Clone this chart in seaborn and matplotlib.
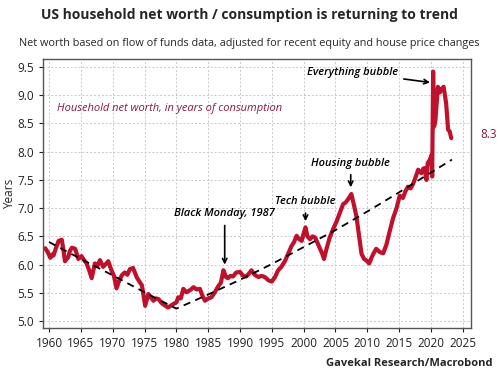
import numpy as np
import pandas as pd
import matplotlib
matplotlib.use("Agg")
import matplotlib.pyplot as plt
import seaborn as sns

# Household net worth in years of consumption
years = [1959.4, 1959.8, 1960.2, 1960.5, 1960.7, 1961.1, 1961.5, 1962.0, 1962.2, 1962.5,
         1963.0, 1963.3, 1963.6, 1964.1, 1964.6, 1965.1, 1965.5, 1965.9, 1966.3, 1966.7,
         1967.2, 1967.6, 1968.0, 1968.5, 1969.0, 1969.3, 1969.8, 1970.2, 1970.6, 1971.1,
         1971.5, 1971.9, 1972.3, 1972.7, 1973.2, 1973.8, 1974.2, 1974.6, 1975.1, 1975.6,
         1976.0, 1976.4, 1976.8, 1977.2, 1977.6, 1977.9, 1978.3, 1978.7, 1979.1, 1979.5,
         1980.0, 1980.3, 1980.7, 1981.1, 1981.6, 1982.2, 1982.7, 1983.2, 1983.7, 1984.1,
         1984.5, 1985.0, 1985.5, 1986.0, 1986.5, 1987.0, 1987.4, 1987.8, 1988.1, 1988.5,
         1988.9, 1989.4, 1990.0, 1990.5, 1991.0, 1991.4, 1991.8, 1992.3, 1992.9, 1993.4,
         1993.9, 1994.5, 1995.0, 1995.5, 1996.0, 1996.5, 1997.1, 1997.6, 1998.1, 1998.5,
         1998.9, 1999.3, 1999.7, 2000.0, 2000.3, 2000.6, 2001.0, 2001.4, 2001.8, 2002.2,
         2002.5, 2002.9, 2003.2, 2003.6, 2004.1, 2004.6, 2005.2, 2005.7, 2006.2, 2006.6,
         2007.0, 2007.5, 2008.0, 2008.3, 2008.6, 2009.1, 2009.5, 2009.9, 2010.3, 2010.7,
         2011.0, 2011.4, 2012.0, 2012.5, 2013.0, 2013.5, 2014.05, 2014.6, 2015.1, 2015.6,
         2016.0, 2016.4, 2016.8, 2017.2, 2017.6, 2018.0, 2018.5, 2018.8, 2019.0, 2019.3,
         2019.5, 2019.8, 2020.1, 2020.2, 2020.35, 2020.5, 2020.7, 2021.1, 2021.4, 2021.6,
         2022.0, 2022.4, 2022.7, 2022.95, 2023.2]
net_worth = [6.29, 6.22, 6.12, 6.18, 6.16, 6.30, 6.42, 6.44, 6.30, 6.06,
             6.13, 6.25, 6.30, 6.28, 6.10, 6.15, 6.08, 6.02, 5.90, 5.76,
             6.02, 5.98, 6.08, 5.96, 6.02, 6.06, 5.90, 5.80, 5.58, 5.74,
             5.82, 5.86, 5.82, 5.92, 5.94, 5.77, 5.70, 5.63, 5.27, 5.48,
             5.42, 5.36, 5.40, 5.39, 5.33, 5.30, 5.27, 5.24, 5.27, 5.30,
             5.33, 5.42, 5.40, 5.57, 5.51, 5.55, 5.60, 5.56, 5.57, 5.45,
             5.36, 5.40, 5.42, 5.50, 5.60, 5.68, 5.90, 5.78, 5.76, 5.80,
             5.79, 5.86, 5.87, 5.80, 5.79, 5.84, 5.90, 5.82, 5.78, 5.80,
             5.78, 5.72, 5.70, 5.78, 5.90, 5.96, 6.07, 6.20, 6.33, 6.40,
             6.51, 6.45, 6.42, 6.55, 6.66, 6.50, 6.45, 6.50, 6.48, 6.38,
             6.30, 6.20, 6.10, 6.28, 6.48, 6.62, 6.77, 6.92, 7.07, 7.10,
             7.16, 7.25, 7.01, 6.85, 6.60, 6.19, 6.10, 6.07, 6.02, 6.13,
             6.20, 6.28, 6.22, 6.20, 6.35, 6.58, 6.82, 7.00, 7.22, 7.18,
             7.30, 7.38, 7.35, 7.43, 7.55, 7.68, 7.62, 7.70, 7.71, 7.50,
             7.80, 7.85, 7.94, 7.56, 9.42, 8.45, 8.55, 9.15, 9.05, 9.10,
             9.15, 8.85, 8.39, 8.36, 8.24]

# Trend line (dashed)
trend_years = [1960, 1965, 1970, 1975, 1980, 1985, 1990, 1995, 2000, 2005, 2010, 2015, 2020, 2023.3]
trend_vals = [6.40, 6.10, 5.81, 5.51, 5.22, 5.47, 5.73, 6.01, 6.31, 6.61, 6.94, 7.28, 7.63, 7.86]

xticks = list(range(1960, 2030, 5))
yticks = [5.0, 5.5, 6.0, 6.5, 7.0, 7.5, 8.0, 8.5, 9.0, 9.5]

sns.set_style("ticks")
plt.rcParams["font.family"] = ["Open Sans", "DejaVu Sans"]

df = pd.DataFrame({"year": years, "value": net_worth})
tf = pd.DataFrame({"year": trend_years, "value": trend_vals})

fig = plt.figure(figsize=(5.0, 3.79), dpi=100)
ax = fig.add_axes([0.086, 0.135, 0.856, 0.709])

ax.grid(True, color="#c8c8c8", linestyle=(0, (2, 2)), linewidth=0.7)
ax.set_axisbelow(True)

sns.lineplot(data=df, x="year", y="value", ax=ax, color="#c0102c", linewidth=3.0)
sns.lineplot(data=tf, x="year", y="value", ax=ax, color="black", linewidth=1.3,
             linestyle=(0, (4, 3)))

ax.set_xlim(1959.05, 2026.3)
ax.set_ylim(4.88, 9.64)
ax.set_xticks(xticks)
ax.set_yticks(yticks)
ax.set_yticklabels([f"{v:.1f}" for v in yticks])
ax.tick_params(labelsize=8.5, colors="#222222", length=3, width=0.8)
ax.set_xlabel("")
ax.set_ylabel("Years", fontsize=8.5, labelpad=1)
for s in ax.spines.values():
    s.set_color("#555555")
    s.set_linewidth(1.0)

# labels
ax.text(1961.2, 8.77, "Household net worth, in years of consumption", color="#8b1a3a",
        fontsize=8, style="italic", va="center", ha="left")
ax.text(2027.8, 8.30, "8.3", color="#8b1a3a", fontsize=8.5, va="center", ha="left",
        clip_on=False)

ann = dict(fontsize=8, style="italic", fontweight="semibold", color="black")
arrow = dict(arrowstyle="->", color="black", lw=1.2)
ax.annotate("Everything bubble", xy=(2020.3, 9.22), xytext=(2014.8, 9.41),
            ha="right", va="center", arrowprops=arrow, **ann)
ax.annotate("Housing bubble", xy=(2007.4, 7.32), xytext=(2007.4, 7.7),
            ha="center", va="bottom", arrowprops=arrow, **ann)
ax.annotate("Tech bubble", xy=(2000.3, 6.72), xytext=(2000.3, 7.02),
            ha="center", va="bottom", arrowprops=arrow, **ann)
ax.annotate("Black Monday, 1987", xy=(1987.6, 5.95), xytext=(1987.6, 6.8),
            ha="center", va="bottom", arrowprops=arrow, **ann)

fig.text(0.498, 0.96, "US household net worth / consumption is returning to trend",
         ha="center", va="center", fontsize=10, fontweight="bold")
fig.text(0.498, 0.885, "Net worth based on flow of funds data, adjusted for recent equity and house price changes",
         ha="center", va="center", fontsize=7.8)
fig.text(0.986, 0.04, "Gavekal Research/Macrobond", ha="right", va="center",
         fontsize=8, fontweight="bold")

fig.savefig("out.png", dpi=100)
